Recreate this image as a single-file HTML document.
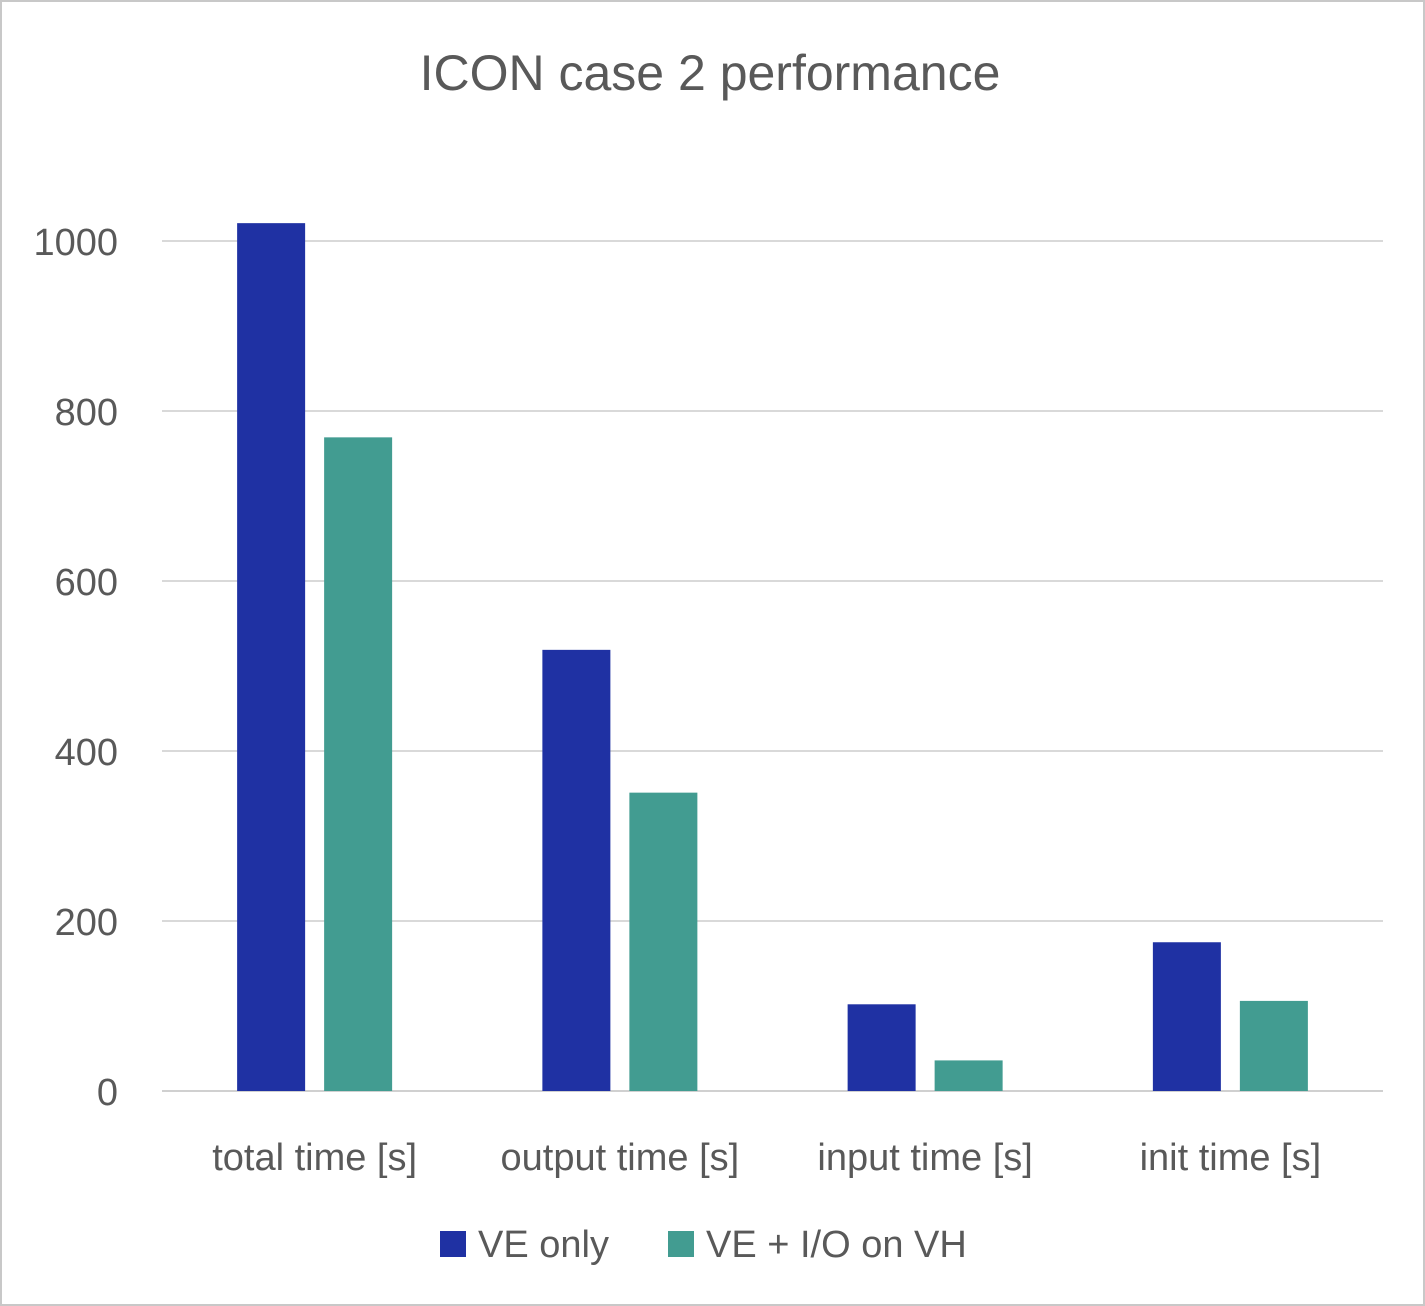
<!DOCTYPE html>
<html><head><meta charset="utf-8"><style>
body{margin:0;background:#fff}
svg{display:block;font-family:"Liberation Sans",sans-serif}
</style></head><body>
<svg width="1425" height="1306">
<rect x="1" y="1" width="1423" height="1304" fill="#fff" stroke="#c8c8c8" stroke-width="2"/>
<text x="710" y="90" text-anchor="middle" font-size="50" fill="#595959">ICON case 2 performance</text>
<g id="grid"></g><g id="bars"></g><g id="labels"></g>
<g>
<rect x="440" y="1231" width="26" height="26" fill="#1f31a3"/>
<text x="478" y="1257" font-size="38" fill="#595959">VE only</text>
<rect x="668" y="1231" width="26" height="26" fill="#429c91"/>
<text x="706" y="1257" font-size="38" fill="#595959">VE + I/O on VH</text>
</g>
</svg>
<script>
const categories=["total time [s]","output time [s]","input time [s]","init time [s]"];
const veOnly=[1021,519,102,175];
const veIO=[769,351,36,106];
const ticks=[0,200,400,600,800,1000];
const x0=162,x1=1383,y0=1091,pxPerUnit=0.85;
const ns="http://www.w3.org/2000/svg";
const y=v=>y0-v*pxPerUnit;
const band=(x1-x0)/categories.length;
function mk(t,a,p){const e=document.createElementNS(ns,t);for(const k in a)e.setAttribute(k,a[k]);document.getElementById(p).appendChild(e);return e;}
ticks.forEach(t=>{
 const l=mk("line",{x1:x0,x2:x1,y1:y(t),y2:y(t),stroke:t===0?"#d0d0d0":"#d9d9d9","stroke-width":2},"grid");
 
 
 const tx=mk("text",{x:118,y:y(t)+14,"text-anchor":"end","font-size":38,fill:"#595959"},"labels");
 tx.textContent=t;
 
 
});
categories.forEach((c,i)=>{
 const cx=x0+band*(i+0.5),bw=68,gap=19;
 const b1=mk("rect",{x:cx-gap/2-bw,y:y(veOnly[i]),width:bw,height:veOnly[i]*pxPerUnit,fill:"#1f31a3"},"bars");
 
 
 const b2=mk("rect",{x:cx+gap/2,y:y(veIO[i]),width:bw,height:veIO[i]*pxPerUnit,fill:"#429c91"},"bars");
 
 
 const t=mk("text",{x:cx,y:1170,"text-anchor":"middle","font-size":38,fill:"#595959"},"labels");
 t.textContent=c;
 
 
});
</script>
</body></html>
